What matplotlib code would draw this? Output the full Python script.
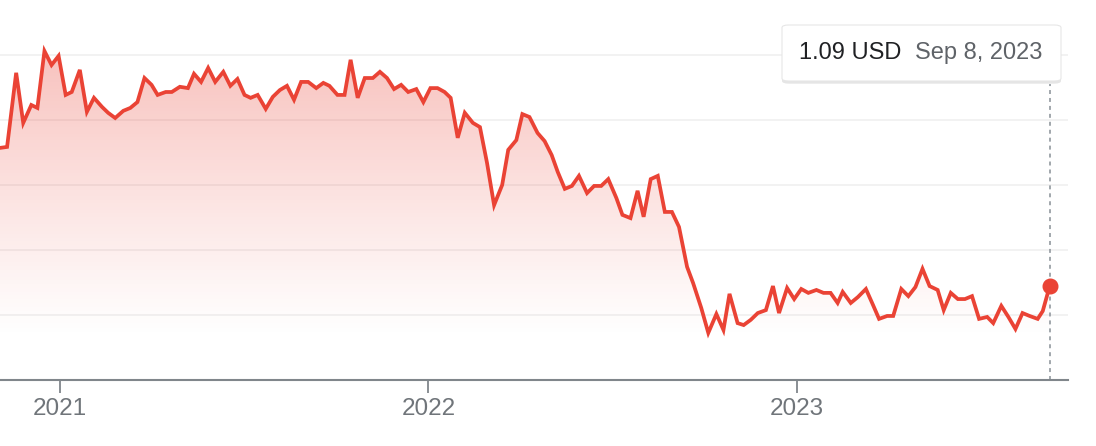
import numpy as np
import matplotlib
matplotlib.use('Agg')
import matplotlib.pyplot as plt
import matplotlib.dates as mdates
from matplotlib.patches import FancyBboxPatch

plt.rcParams['font.family'] = ['Liberation Sans', 'DejaVu Sans']

# weekly closes (days counted from start_date)
start_date = np.datetime64('2020-11-03')
day_offsets = [0, 7, 16, 23, 31, 37, 44, 51, 58, 65,
               71, 79, 86, 93, 101, 107, 114, 122, 129, 136,
               143, 150, 156, 164, 170, 178, 186, 192, 199, 206,
               213, 221, 228, 235, 242, 248, 255, 263, 270, 277,
               284, 291, 298, 305, 313, 320, 326, 334, 341, 347,
               354, 361, 369, 376, 383, 390, 397, 404, 412, 419,
               426, 433, 440, 446, 453, 460, 468, 475, 482, 489,
               497, 503, 511, 517, 524, 532, 539, 546, 552, 559,
               566, 573, 581, 588, 595, 602, 610, 616, 624, 631,
               637, 644, 651, 658, 665, 672, 680, 686, 694, 701,
               709, 716, 722, 730, 736, 743, 750, 758, 765, 771,
               779, 786, 793, 800, 808, 815, 822, 829, 834, 842,
               849, 857, 864, 870, 878, 884, 892, 899, 906, 913,
               920, 928, 934, 941, 948, 955, 962, 969, 977, 983,
               991, 998, 1005, 1012, 1019, 1027, 1032, 1039]
prices = [1.514, 1.517, 1.745, 1.591, 1.646, 1.637, 1.812, 1.769, 1.797, 1.677,
          1.686, 1.754, 1.625, 1.668, 1.640, 1.622, 1.606, 1.628, 1.637, 1.655,
          1.729, 1.708, 1.677, 1.686, 1.686, 1.702, 1.698, 1.742, 1.717, 1.760,
          1.717, 1.748, 1.705, 1.726, 1.677, 1.668, 1.677, 1.634, 1.671, 1.692,
          1.705, 1.662, 1.717, 1.717, 1.698, 1.714, 1.705, 1.677, 1.677, 1.785,
          1.668, 1.729, 1.729, 1.748, 1.729, 1.695, 1.708, 1.686, 1.695, 1.655,
          1.698, 1.698, 1.686, 1.668, 1.545, 1.622, 1.591, 1.578, 1.468, 1.338,
          1.400, 1.508, 1.538, 1.618, 1.609, 1.560, 1.535, 1.492, 1.440, 1.388,
          1.397, 1.428, 1.375, 1.397, 1.397, 1.418, 1.360, 1.308, 1.298, 1.382,
          1.302, 1.418, 1.428, 1.317, 1.317, 1.271, 1.148, 1.098, 1.022, 0.945,
          1.003, 0.954, 1.065, 0.975, 0.969, 0.985, 1.006, 1.015, 1.089, 1.006,
          1.083, 1.049, 1.080, 1.068, 1.077, 1.068, 1.068, 1.037, 1.071, 1.037,
          1.055, 1.080, 1.031, 0.988, 0.997, 0.997, 1.080, 1.058, 1.086, 1.142,
          1.089, 1.077, 1.015, 1.068, 1.049, 1.049, 1.058, 0.988, 0.994, 0.975,
          1.028, 0.994, 0.957, 1.006, 0.997, 0.988, 1.012, 1.09]
currency = 'USD'
grid_values = [1.0, 1.2, 1.4, 1.6, 1.8]
year_ticks = ['2021-01-01', '2022-01-01', '2023-01-01']
year_labels = ['2021', '2022', '2023']

dates = start_date + np.array(day_offsets).astype('timedelta64[D]')
red = '#ea4335'

fig = plt.figure(figsize=(10.96, 4.46), dpi=100)
ax = fig.add_axes([0, 66 / 446, 1068 / 1096, 380 / 446])
ymin, ymax = 0.8, 1.969
x0 = mdates.date2num(start_date)
x1 = mdates.date2num(dates[-1] + np.timedelta64(18, 'D'))
ax.set_xlim(x0, x1)
ax.set_ylim(ymin, ymax)

# gradient under the line
yy = np.linspace(ymin, ymax, 300)
alpha = np.clip((yy - 0.93) / (1.85 - 0.93), 0, 1) ** 1.1 * 0.34
img = np.zeros((300, 1, 4))
img[..., 0] = 0.92
img[..., 1] = 0.26
img[..., 2] = 0.21
img[..., 3] = alpha[:, None]
im = ax.imshow(img, extent=[x0, x1, ymin, ymax], origin='lower', aspect='auto', zorder=1)
poly = ax.fill_between(mdates.date2num(dates), prices, ymin, color='none', lw=0)
im.set_clip_path(poly.get_paths()[0], transform=ax.transData)

ax.plot(mdates.date2num(dates), prices, color=red, lw=2.7, zorder=3, solid_joinstyle='miter')
ax.plot(mdates.date2num(dates[-1]), prices[-1], 'o', color=red, ms=10.5, zorder=4)
ax.plot([mdates.date2num(dates[-1])] * 2, [ymin, 1.71], color='#9aa0a6', lw=1.3,
        ls=(0, (2.2, 2.2)), zorder=2)

ax.set_yticks(grid_values)
ax.yaxis.grid(True, color='#f0f0f0', lw=1.2)
ax.tick_params(axis='y', left=False, labelleft=False)
ax.set_xticks(mdates.date2num(np.array(year_ticks, dtype='datetime64[D]')))
ax.set_xticklabels(year_labels)
ax.tick_params(axis='x', length=9, width=1.3, color='#80868b', labelcolor='#70757a',
               labelsize=17.5, pad=4)
for s in ['left', 'right', 'top']:
    ax.spines[s].set_visible(False)
ax.spines['bottom'].set_color('#80868b')
ax.spines['bottom'].set_linewidth(1.5)
ax.set_axisbelow(True)

# tooltip
bx, by, bw, bh = 782 / 1096, (446 - 81) / 446, 279 / 1096, 56 / 446
shadow = FancyBboxPatch((bx, by - 0.006), bw, bh, boxstyle='round,pad=0,rounding_size=0.006',
                        transform=fig.transFigure, fc='#000000', alpha=0.10, ec='none')
box = FancyBboxPatch((bx, by), bw, bh, boxstyle='round,pad=0,rounding_size=0.006',
                     transform=fig.transFigure, fc='white', ec='#e6e6e6', lw=0.8)
fig.patches.extend([shadow, box])
last_day = dates[-1].astype(object)
fig.text(799 / 1096, (446 - 53) / 446, f'{prices[-1]:.2f} {currency}', fontsize=17,
         color='#202124', va='center', ha='left')
fig.text(915 / 1096, (446 - 53) / 446, f"{last_day.strftime('%b')} {last_day.day}, {last_day.year}",
         fontsize=17, color='#5f6368', va='center', ha='left')

fig.savefig('out.png', dpi=100)
